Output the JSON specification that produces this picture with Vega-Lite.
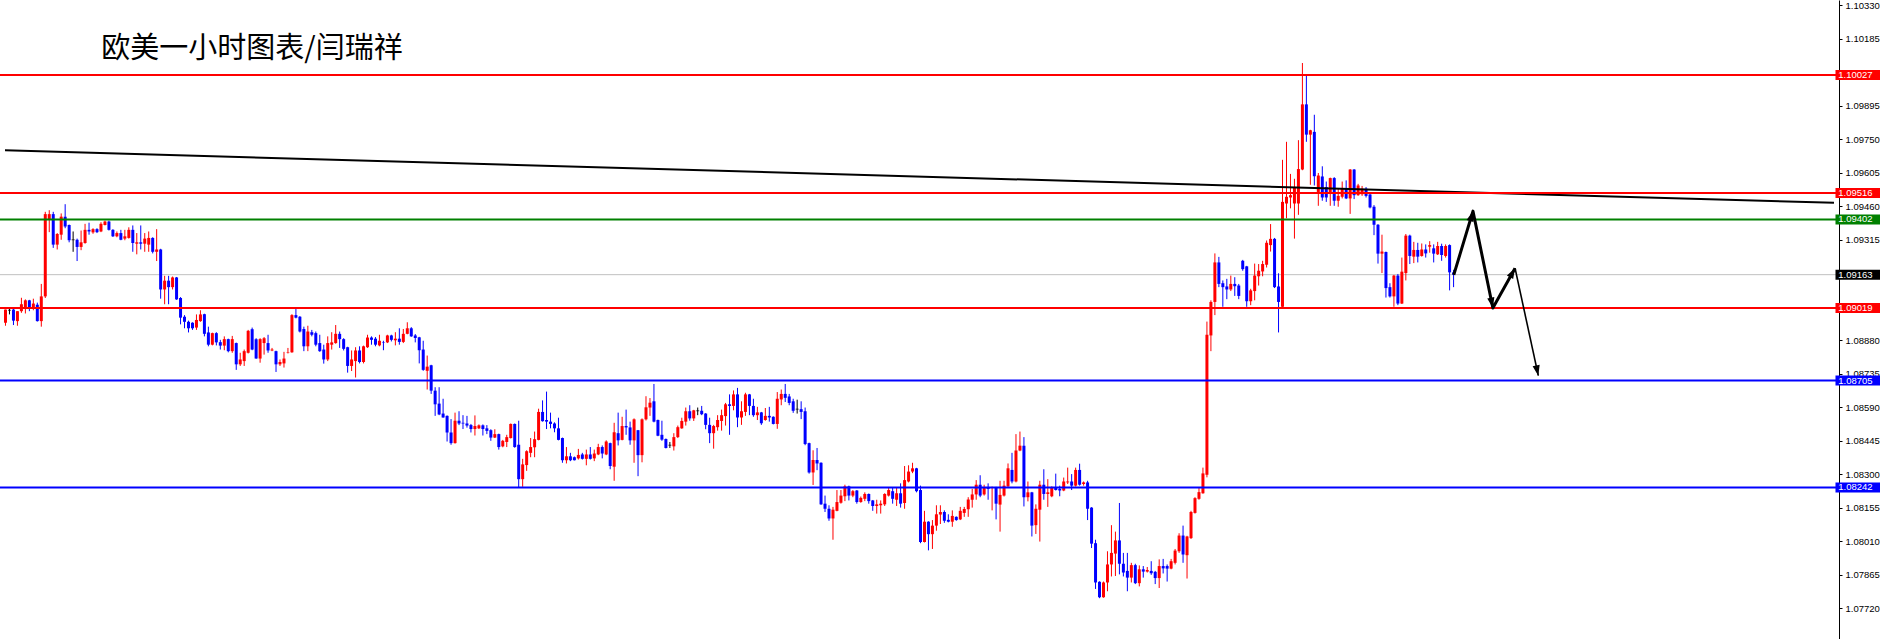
{
"$schema":"https://vega.github.io/schema/vega-lite/v6.json",
"width":1839,"height":639,
"autosize":{"type":"none"},
"padding":{"left":0,"top":0,"right":41,"bottom":0},
"background":"white",
"config":{"view":{"stroke":null},"font":"Liberation Sans"},
"resolve":{"axis":{"y":"independent"}},
"datasets":{
"candles":[
{"i":0,"o":1.08955,"h":1.09012,"l":1.08942,"c":1.09012},
{"i":1,"o":1.09009,"h":1.09016,"l":1.08991,"c":1.09009},
{"i":2,"o":1.09012,"h":1.09015,"l":1.08945,"c":1.08964},
{"i":3,"o":1.08962,"h":1.09005,"l":1.08942,"c":1.09005},
{"i":4,"o":1.09005,"h":1.09063,"l":1.08998,"c":1.09035},
{"i":5,"o":1.09023,"h":1.09056,"l":1.08995,"c":1.09052},
{"i":6,"o":1.09052,"h":1.09054,"l":1.09005,"c":1.09023},
{"i":7,"o":1.09019,"h":1.09059,"l":1.09009,"c":1.09038},
{"i":8,"o":1.09033,"h":1.09042,"l":1.0896,"c":1.08962},
{"i":9,"o":1.08962,"h":1.09123,"l":1.08938,"c":1.09069},
{"i":10,"o":1.09069,"h":1.09435,"l":1.09062,"c":1.09425},
{"i":11,"o":1.09404,"h":1.09442,"l":1.09347,"c":1.09425},
{"i":12,"o":1.09425,"h":1.09435,"l":1.09279,"c":1.09293},
{"i":13,"o":1.09293,"h":1.09343,"l":1.09272,"c":1.09339},
{"i":14,"o":1.09336,"h":1.09428,"l":1.09314,"c":1.09414},
{"i":15,"o":1.09414,"h":1.09468,"l":1.09364,"c":1.09371},
{"i":16,"o":1.09378,"h":1.0938,"l":1.09303,"c":1.09312},
{"i":17,"o":1.09314,"h":1.0935,"l":1.09262,"c":1.09314},
{"i":18,"o":1.09314,"h":1.09319,"l":1.09222,"c":1.09283},
{"i":19,"o":1.09283,"h":1.09354,"l":1.09269,"c":1.09303},
{"i":20,"o":1.093,"h":1.09383,"l":1.09297,"c":1.09357},
{"i":21,"o":1.09357,"h":1.09388,"l":1.09336,"c":1.0935},
{"i":22,"o":1.09346,"h":1.09364,"l":1.0934,"c":1.0936},
{"i":23,"o":1.0936,"h":1.09364,"l":1.09343,"c":1.09347},
{"i":24,"o":1.0935,"h":1.0939,"l":1.09347,"c":1.09383},
{"i":25,"o":1.09378,"h":1.09397,"l":1.09376,"c":1.09393},
{"i":26,"o":1.09393,"h":1.09397,"l":1.09354,"c":1.09357},
{"i":27,"o":1.09357,"h":1.0936,"l":1.09326,"c":1.09329},
{"i":28,"o":1.09329,"h":1.0935,"l":1.09325,"c":1.09343},
{"i":29,"o":1.09343,"h":1.09357,"l":1.09312,"c":1.09314},
{"i":30,"o":1.09319,"h":1.09357,"l":1.09312,"c":1.09329},
{"i":31,"o":1.09322,"h":1.09368,"l":1.09319,"c":1.09357},
{"i":32,"o":1.09357,"h":1.09376,"l":1.09262,"c":1.093},
{"i":33,"o":1.09297,"h":1.09343,"l":1.09251,"c":1.09303},
{"i":34,"o":1.09303,"h":1.09376,"l":1.09272,"c":1.09297},
{"i":35,"o":1.09297,"h":1.09343,"l":1.09262,"c":1.09319},
{"i":36,"o":1.09293,"h":1.0935,"l":1.09262,"c":1.09322},
{"i":37,"o":1.09322,"h":1.09325,"l":1.09255,"c":1.09262},
{"i":38,"o":1.09262,"h":1.0936,"l":1.09222,"c":1.09272},
{"i":39,"o":1.09272,"h":1.09275,"l":1.09059,"c":1.09099},
{"i":40,"o":1.09099,"h":1.09158,"l":1.09035,"c":1.09137},
{"i":41,"o":1.09137,"h":1.09158,"l":1.09035,"c":1.09109},
{"i":42,"o":1.09109,"h":1.09155,"l":1.09099,"c":1.09151},
{"i":43,"o":1.09151,"h":1.09153,"l":1.09054,"c":1.09056},
{"i":44,"o":1.09062,"h":1.09066,"l":1.08948,"c":1.08977},
{"i":45,"o":1.08981,"h":1.08988,"l":1.08931,"c":1.08959},
{"i":46,"o":1.08959,"h":1.08964,"l":1.08913,"c":1.08931},
{"i":47,"o":1.08955,"h":1.08957,"l":1.08924,"c":1.08931},
{"i":48,"o":1.08934,"h":1.08991,"l":1.08924,"c":1.08967},
{"i":49,"o":1.08962,"h":1.09009,"l":1.08959,"c":1.08991},
{"i":50,"o":1.08992,"h":1.08994,"l":1.08896,"c":1.08907},
{"i":51,"o":1.08913,"h":1.08938,"l":1.08853,"c":1.0886},
{"i":52,"o":1.0886,"h":1.08912,"l":1.08857,"c":1.0891},
{"i":53,"o":1.0891,"h":1.08914,"l":1.08857,"c":1.0887},
{"i":54,"o":1.08871,"h":1.08881,"l":1.08839,"c":1.08856},
{"i":55,"o":1.08856,"h":1.08896,"l":1.08836,"c":1.08884},
{"i":56,"o":1.08884,"h":1.08886,"l":1.08827,"c":1.08832},
{"i":57,"o":1.08832,"h":1.08898,"l":1.08825,"c":1.08884},
{"i":58,"o":1.08867,"h":1.08869,"l":1.08751,"c":1.08775},
{"i":59,"o":1.08775,"h":1.08825,"l":1.08768,"c":1.08796},
{"i":60,"o":1.08789,"h":1.08839,"l":1.08768,"c":1.08832},
{"i":61,"o":1.08825,"h":1.08924,"l":1.08822,"c":1.0892},
{"i":62,"o":1.08927,"h":1.08934,"l":1.08836,"c":1.08839},
{"i":63,"o":1.08884,"h":1.08888,"l":1.08799,"c":1.088},
{"i":64,"o":1.088,"h":1.08888,"l":1.08782,"c":1.08884},
{"i":65,"o":1.08867,"h":1.08893,"l":1.08817,"c":1.08888},
{"i":66,"o":1.08867,"h":1.08903,"l":1.08825,"c":1.08835},
{"i":67,"o":1.08835,"h":1.08846,"l":1.08832,"c":1.08839},
{"i":68,"o":1.08832,"h":1.08834,"l":1.08742,"c":1.08775},
{"i":69,"o":1.08775,"h":1.08796,"l":1.08768,"c":1.08785},
{"i":70,"o":1.08779,"h":1.08829,"l":1.08761,"c":1.088},
{"i":71,"o":1.08825,"h":1.08846,"l":1.08822,"c":1.08827},
{"i":72,"o":1.08827,"h":1.08992,"l":1.08825,"c":1.08988},
{"i":73,"o":1.08988,"h":1.09016,"l":1.08974,"c":1.08977},
{"i":74,"o":1.08981,"h":1.08984,"l":1.08913,"c":1.08917},
{"i":75,"o":1.08928,"h":1.08938,"l":1.08832,"c":1.08853},
{"i":76,"o":1.08853,"h":1.08942,"l":1.08832,"c":1.08917},
{"i":77,"o":1.08914,"h":1.08924,"l":1.08896,"c":1.08903},
{"i":78,"o":1.0891,"h":1.08917,"l":1.08853,"c":1.0886},
{"i":79,"o":1.08867,"h":1.08903,"l":1.08829,"c":1.08832},
{"i":80,"o":1.08839,"h":1.0886,"l":1.08778,"c":1.08796},
{"i":81,"o":1.08796,"h":1.08896,"l":1.08789,"c":1.08867},
{"i":82,"o":1.0886,"h":1.08914,"l":1.08839,"c":1.0887},
{"i":83,"o":1.08867,"h":1.08945,"l":1.08864,"c":1.08907},
{"i":84,"o":1.08907,"h":1.08917,"l":1.08846,"c":1.08884},
{"i":85,"o":1.08884,"h":1.08888,"l":1.08835,"c":1.08842},
{"i":86,"o":1.08849,"h":1.08851,"l":1.08739,"c":1.08768},
{"i":87,"o":1.08768,"h":1.08835,"l":1.08746,"c":1.08796},
{"i":88,"o":1.08789,"h":1.08849,"l":1.08718,"c":1.08835},
{"i":89,"o":1.08835,"h":1.08853,"l":1.08779,"c":1.08785},
{"i":90,"o":1.08785,"h":1.08856,"l":1.08779,"c":1.08853},
{"i":91,"o":1.08849,"h":1.08903,"l":1.08846,"c":1.08891},
{"i":92,"o":1.08891,"h":1.08896,"l":1.0886,"c":1.08881},
{"i":93,"o":1.08886,"h":1.08893,"l":1.08853,"c":1.0886},
{"i":94,"o":1.08857,"h":1.08903,"l":1.08853,"c":1.08877},
{"i":95,"o":1.08871,"h":1.08877,"l":1.08836,"c":1.08869},
{"i":96,"o":1.0887,"h":1.08903,"l":1.08867,"c":1.089},
{"i":97,"o":1.089,"h":1.08903,"l":1.08874,"c":1.08881},
{"i":98,"o":1.08879,"h":1.08914,"l":1.08857,"c":1.08886},
{"i":99,"o":1.08886,"h":1.08931,"l":1.0886,"c":1.08872},
{"i":100,"o":1.08872,"h":1.08928,"l":1.08867,"c":1.08907},
{"i":101,"o":1.08907,"h":1.08957,"l":1.08905,"c":1.08931},
{"i":102,"o":1.08931,"h":1.08936,"l":1.08894,"c":1.08896},
{"i":103,"o":1.089,"h":1.08906,"l":1.0887,"c":1.08889},
{"i":104,"o":1.08892,"h":1.08894,"l":1.08779,"c":1.08836},
{"i":105,"o":1.08839,"h":1.08877,"l":1.08747,"c":1.08751},
{"i":106,"o":1.08747,"h":1.08813,"l":1.08666,"c":1.08765},
{"i":107,"o":1.08771,"h":1.08773,"l":1.08647,"c":1.08661},
{"i":108,"o":1.08661,"h":1.08676,"l":1.08552,"c":1.08602},
{"i":109,"o":1.08605,"h":1.08676,"l":1.08555,"c":1.08558},
{"i":110,"o":1.08562,"h":1.08626,"l":1.08544,"c":1.08545},
{"i":111,"o":1.08552,"h":1.08554,"l":1.08441,"c":1.0848},
{"i":112,"o":1.0848,"h":1.08538,"l":1.08427,"c":1.08434},
{"i":113,"o":1.08434,"h":1.08566,"l":1.08432,"c":1.08531},
{"i":114,"o":1.08531,"h":1.08572,"l":1.08512,"c":1.08519},
{"i":115,"o":1.08522,"h":1.08555,"l":1.08495,"c":1.08519},
{"i":116,"o":1.08519,"h":1.08552,"l":1.08501,"c":1.0851},
{"i":117,"o":1.08512,"h":1.08517,"l":1.0848,"c":1.08495},
{"i":118,"o":1.08495,"h":1.08554,"l":1.08467,"c":1.08508},
{"i":119,"o":1.08498,"h":1.08515,"l":1.08495,"c":1.08511},
{"i":120,"o":1.08511,"h":1.08515,"l":1.08467,"c":1.08495},
{"i":121,"o":1.08498,"h":1.08512,"l":1.08473,"c":1.08487},
{"i":122,"o":1.0849,"h":1.08494,"l":1.08444,"c":1.08458},
{"i":123,"o":1.08458,"h":1.08494,"l":1.08456,"c":1.08473},
{"i":124,"o":1.08473,"h":1.08475,"l":1.08406,"c":1.08417},
{"i":125,"o":1.0842,"h":1.08448,"l":1.08416,"c":1.08444},
{"i":126,"o":1.08439,"h":1.0847,"l":1.08417,"c":1.0846},
{"i":127,"o":1.08456,"h":1.08519,"l":1.08454,"c":1.08517},
{"i":128,"o":1.08517,"h":1.08519,"l":1.08414,"c":1.08417},
{"i":129,"o":1.08427,"h":1.08531,"l":1.08243,"c":1.08278},
{"i":130,"o":1.08278,"h":1.08366,"l":1.08245,"c":1.08342},
{"i":131,"o":1.08339,"h":1.08403,"l":1.08314,"c":1.08399},
{"i":132,"o":1.08392,"h":1.08456,"l":1.08373,"c":1.08417},
{"i":133,"o":1.08416,"h":1.08484,"l":1.08373,"c":1.08451},
{"i":134,"o":1.08448,"h":1.08583,"l":1.08446,"c":1.08569},
{"i":135,"o":1.08569,"h":1.08619,"l":1.08527,"c":1.08529},
{"i":136,"o":1.08534,"h":1.08657,"l":1.08495,"c":1.08527},
{"i":137,"o":1.08527,"h":1.08566,"l":1.08498,"c":1.08517},
{"i":138,"o":1.08519,"h":1.08524,"l":1.08481,"c":1.08498},
{"i":139,"o":1.08498,"h":1.08544,"l":1.08446,"c":1.08448},
{"i":140,"o":1.08456,"h":1.08458,"l":1.08349,"c":1.0836},
{"i":141,"o":1.0836,"h":1.08417,"l":1.08346,"c":1.08377},
{"i":142,"o":1.08377,"h":1.08392,"l":1.08356,"c":1.0836},
{"i":143,"o":1.08373,"h":1.08376,"l":1.08359,"c":1.0836},
{"i":144,"o":1.08368,"h":1.08409,"l":1.08363,"c":1.08383},
{"i":145,"o":1.08385,"h":1.08392,"l":1.08363,"c":1.08366},
{"i":146,"o":1.08366,"h":1.08406,"l":1.08338,"c":1.08385},
{"i":147,"o":1.08385,"h":1.08417,"l":1.08363,"c":1.08366},
{"i":148,"o":1.08368,"h":1.08406,"l":1.08356,"c":1.08389},
{"i":149,"o":1.08385,"h":1.08431,"l":1.08382,"c":1.08417},
{"i":150,"o":1.08417,"h":1.08424,"l":1.08368,"c":1.08389},
{"i":151,"o":1.08385,"h":1.08446,"l":1.08382,"c":1.08441},
{"i":152,"o":1.08434,"h":1.08436,"l":1.08321,"c":1.08335},
{"i":153,"o":1.08332,"h":1.08522,"l":1.08271,"c":1.08481},
{"i":154,"o":1.08477,"h":1.08566,"l":1.08424,"c":1.08446},
{"i":155,"o":1.08448,"h":1.08548,"l":1.08446,"c":1.08508},
{"i":156,"o":1.08508,"h":1.08579,"l":1.0847,"c":1.08502},
{"i":157,"o":1.08502,"h":1.08527,"l":1.08427,"c":1.08446},
{"i":158,"o":1.08446,"h":1.08541,"l":1.08349,"c":1.08537},
{"i":159,"o":1.0849,"h":1.08491,"l":1.08291,"c":1.08382},
{"i":160,"o":1.08382,"h":1.08541,"l":1.08351,"c":1.08537},
{"i":161,"o":1.08537,"h":1.08637,"l":1.08532,"c":1.08589},
{"i":162,"o":1.08588,"h":1.08629,"l":1.08552,"c":1.08609},
{"i":163,"o":1.08615,"h":1.0869,"l":1.08524,"c":1.08527},
{"i":164,"o":1.08534,"h":1.08536,"l":1.08464,"c":1.08466},
{"i":165,"o":1.0847,"h":1.08531,"l":1.08444,"c":1.08449},
{"i":166,"o":1.08452,"h":1.08454,"l":1.08411,"c":1.08413},
{"i":167,"o":1.08425,"h":1.08439,"l":1.08413,"c":1.08425},
{"i":168,"o":1.0842,"h":1.08477,"l":1.08402,"c":1.0846},
{"i":169,"o":1.0846,"h":1.0851,"l":1.08456,"c":1.08503},
{"i":170,"o":1.08498,"h":1.08544,"l":1.08496,"c":1.0853},
{"i":171,"o":1.08527,"h":1.08588,"l":1.0851,"c":1.08572},
{"i":172,"o":1.08572,"h":1.08598,"l":1.08531,"c":1.08541},
{"i":173,"o":1.08541,"h":1.08578,"l":1.0853,"c":1.08576},
{"i":174,"o":1.08574,"h":1.08588,"l":1.08555,"c":1.08574},
{"i":175,"o":1.08574,"h":1.08595,"l":1.08555,"c":1.08559},
{"i":176,"o":1.08562,"h":1.08564,"l":1.08494,"c":1.08513},
{"i":177,"o":1.08513,"h":1.08544,"l":1.08434,"c":1.08477},
{"i":178,"o":1.08477,"h":1.08513,"l":1.0841,"c":1.08508},
{"i":179,"o":1.08503,"h":1.08555,"l":1.08488,"c":1.08534},
{"i":180,"o":1.0853,"h":1.08579,"l":1.08488,"c":1.08555},
{"i":181,"o":1.08551,"h":1.08608,"l":1.0851,"c":1.08602},
{"i":182,"o":1.08602,"h":1.08645,"l":1.0847,"c":1.08595},
{"i":183,"o":1.08595,"h":1.08662,"l":1.08576,"c":1.08645},
{"i":184,"o":1.08645,"h":1.08673,"l":1.08503,"c":1.08545},
{"i":185,"o":1.08545,"h":1.08615,"l":1.08513,"c":1.08572},
{"i":186,"o":1.08569,"h":1.08652,"l":1.08552,"c":1.08645},
{"i":187,"o":1.08645,"h":1.08647,"l":1.08555,"c":1.08595},
{"i":188,"o":1.08595,"h":1.08626,"l":1.08548,"c":1.08555},
{"i":189,"o":1.08555,"h":1.08591,"l":1.08534,"c":1.08567},
{"i":190,"o":1.08567,"h":1.08569,"l":1.08513,"c":1.0852},
{"i":191,"o":1.08534,"h":1.08586,"l":1.08531,"c":1.08552},
{"i":192,"o":1.08552,"h":1.08591,"l":1.08527,"c":1.08545},
{"i":193,"o":1.08548,"h":1.0855,"l":1.08515,"c":1.08517},
{"i":194,"o":1.08517,"h":1.08655,"l":1.08496,"c":1.08626},
{"i":195,"o":1.08623,"h":1.08666,"l":1.08598,"c":1.08647},
{"i":196,"o":1.08647,"h":1.0869,"l":1.08612,"c":1.0863},
{"i":197,"o":1.08636,"h":1.08647,"l":1.08598,"c":1.08608},
{"i":198,"o":1.08615,"h":1.08626,"l":1.08565,"c":1.08574},
{"i":199,"o":1.08581,"h":1.08622,"l":1.08562,"c":1.08581},
{"i":200,"o":1.08581,"h":1.08615,"l":1.08538,"c":1.08569},
{"i":201,"o":1.08572,"h":1.08588,"l":1.08425,"c":1.0843},
{"i":202,"o":1.08434,"h":1.08436,"l":1.08302,"c":1.08307},
{"i":203,"o":1.08307,"h":1.08403,"l":1.08253,"c":1.08361},
{"i":204,"o":1.08361,"h":1.08413,"l":1.08317,"c":1.08346},
{"i":205,"o":1.08349,"h":1.08351,"l":1.08167,"c":1.08169},
{"i":206,"o":1.08172,"h":1.08207,"l":1.08136,"c":1.0815},
{"i":207,"o":1.0815,"h":1.08165,"l":1.08098,"c":1.08108},
{"i":208,"o":1.08108,"h":1.08158,"l":1.08016,"c":1.08146},
{"i":209,"o":1.08141,"h":1.08231,"l":1.08139,"c":1.08179},
{"i":210,"o":1.08176,"h":1.08231,"l":1.08172,"c":1.08207},
{"i":211,"o":1.08204,"h":1.08254,"l":1.08183,"c":1.08247},
{"i":212,"o":1.08247,"h":1.0825,"l":1.08186,"c":1.08207},
{"i":213,"o":1.08207,"h":1.08231,"l":1.082,"c":1.08226},
{"i":214,"o":1.08229,"h":1.08231,"l":1.08172,"c":1.08179},
{"i":215,"o":1.08179,"h":1.08203,"l":1.08176,"c":1.08197},
{"i":216,"o":1.08193,"h":1.08221,"l":1.08183,"c":1.08214},
{"i":217,"o":1.08214,"h":1.08216,"l":1.08172,"c":1.08183},
{"i":218,"o":1.08186,"h":1.08188,"l":1.08141,"c":1.08162},
{"i":219,"o":1.08162,"h":1.08189,"l":1.08129,"c":1.08169},
{"i":220,"o":1.08165,"h":1.08186,"l":1.08129,"c":1.08172},
{"i":221,"o":1.08169,"h":1.08217,"l":1.08162,"c":1.08214},
{"i":222,"o":1.08207,"h":1.0824,"l":1.08203,"c":1.08231},
{"i":223,"o":1.08226,"h":1.08243,"l":1.08172,"c":1.08193},
{"i":224,"o":1.08189,"h":1.0824,"l":1.08162,"c":1.08217},
{"i":225,"o":1.08217,"h":1.0826,"l":1.08155,"c":1.08172},
{"i":226,"o":1.08175,"h":1.08335,"l":1.0815,"c":1.08274},
{"i":227,"o":1.08268,"h":1.08338,"l":1.08264,"c":1.08311},
{"i":228,"o":1.08311,"h":1.08349,"l":1.08304,"c":1.08325},
{"i":229,"o":1.08325,"h":1.08327,"l":1.08221,"c":1.08226},
{"i":230,"o":1.08231,"h":1.0825,"l":1.08001,"c":1.08006},
{"i":231,"o":1.08006,"h":1.08141,"l":1.08004,"c":1.08094},
{"i":232,"o":1.08094,"h":1.08096,"l":1.0797,"c":1.0804},
{"i":233,"o":1.0804,"h":1.08101,"l":1.07976,"c":1.08077},
{"i":234,"o":1.08077,"h":1.08165,"l":1.08055,"c":1.08126},
{"i":235,"o":1.08125,"h":1.08165,"l":1.08084,"c":1.08136},
{"i":236,"o":1.08136,"h":1.08143,"l":1.08089,"c":1.08098},
{"i":237,"o":1.08102,"h":1.08126,"l":1.08091,"c":1.08094},
{"i":238,"o":1.08094,"h":1.08143,"l":1.08072,"c":1.08119},
{"i":239,"o":1.08115,"h":1.08117,"l":1.08098,"c":1.08101},
{"i":240,"o":1.08104,"h":1.08158,"l":1.08101,"c":1.08141},
{"i":241,"o":1.08132,"h":1.08158,"l":1.08115,"c":1.08149},
{"i":242,"o":1.08148,"h":1.082,"l":1.08115,"c":1.0819},
{"i":243,"o":1.08189,"h":1.08236,"l":1.08155,"c":1.08212},
{"i":244,"o":1.08212,"h":1.08274,"l":1.08189,"c":1.08254},
{"i":245,"o":1.08254,"h":1.08295,"l":1.082,"c":1.08207},
{"i":246,"o":1.08212,"h":1.08254,"l":1.08207,"c":1.0824},
{"i":247,"o":1.08243,"h":1.0826,"l":1.08189,"c":1.08236},
{"i":248,"o":1.0824,"h":1.08246,"l":1.08143,"c":1.08243},
{"i":249,"o":1.08243,"h":1.08245,"l":1.08104,"c":1.08172},
{"i":250,"o":1.08168,"h":1.08271,"l":1.08051,"c":1.0821},
{"i":251,"o":1.08207,"h":1.08271,"l":1.08203,"c":1.0825},
{"i":252,"o":1.08247,"h":1.08346,"l":1.08243,"c":1.08325},
{"i":253,"o":1.08318,"h":1.08392,"l":1.0826,"c":1.08268},
{"i":254,"o":1.08268,"h":1.08473,"l":1.08264,"c":1.08402},
{"i":255,"o":1.08402,"h":1.08484,"l":1.08399,"c":1.08423},
{"i":256,"o":1.08423,"h":1.0846,"l":1.0816,"c":1.082},
{"i":257,"o":1.082,"h":1.08268,"l":1.08182,"c":1.08221},
{"i":258,"o":1.08221,"h":1.08223,"l":1.0803,"c":1.08077},
{"i":259,"o":1.08079,"h":1.08169,"l":1.08041,"c":1.0815},
{"i":260,"o":1.08146,"h":1.08271,"l":1.08008,"c":1.08254},
{"i":261,"o":1.08254,"h":1.08321,"l":1.08189,"c":1.08214},
{"i":262,"o":1.08214,"h":1.08278,"l":1.08158,"c":1.08221},
{"i":263,"o":1.08204,"h":1.08247,"l":1.082,"c":1.08243},
{"i":264,"o":1.08243,"h":1.08302,"l":1.08229,"c":1.08231},
{"i":265,"o":1.08236,"h":1.0825,"l":1.08204,"c":1.08229},
{"i":266,"o":1.08229,"h":1.08285,"l":1.08226,"c":1.08268},
{"i":267,"o":1.08264,"h":1.08328,"l":1.08257,"c":1.08268},
{"i":268,"o":1.08268,"h":1.083,"l":1.08231,"c":1.0825},
{"i":269,"o":1.0825,"h":1.08328,"l":1.08246,"c":1.08318},
{"i":270,"o":1.08318,"h":1.08345,"l":1.0825,"c":1.08254},
{"i":271,"o":1.08257,"h":1.08268,"l":1.0825,"c":1.08264},
{"i":272,"o":1.08264,"h":1.08271,"l":1.08101,"c":1.0815},
{"i":273,"o":1.08155,"h":1.08157,"l":1.0798,"c":1.07999},
{"i":274,"o":1.08001,"h":1.08016,"l":1.07803,"c":1.07831},
{"i":275,"o":1.07834,"h":1.07836,"l":1.07763,"c":1.07767},
{"i":276,"o":1.07767,"h":1.07835,"l":1.07765,"c":1.07831},
{"i":277,"o":1.07831,"h":1.07966,"l":1.07793,"c":1.07909},
{"i":278,"o":1.07909,"h":1.08079,"l":1.07857,"c":1.07959},
{"i":279,"o":1.07956,"h":1.08051,"l":1.07859,"c":1.08013},
{"i":280,"o":1.08013,"h":1.08175,"l":1.07866,"c":1.07912},
{"i":281,"o":1.07912,"h":1.07959,"l":1.07857,"c":1.07874},
{"i":282,"o":1.07881,"h":1.07959,"l":1.07793,"c":1.07852},
{"i":283,"o":1.07852,"h":1.07916,"l":1.07831,"c":1.07906},
{"i":284,"o":1.07906,"h":1.07912,"l":1.07824,"c":1.07828},
{"i":285,"o":1.07828,"h":1.07905,"l":1.07814,"c":1.07888},
{"i":286,"o":1.07888,"h":1.07902,"l":1.07852,"c":1.07878},
{"i":287,"o":1.07878,"h":1.07898,"l":1.07874,"c":1.07885},
{"i":288,"o":1.07881,"h":1.07923,"l":1.07864,"c":1.07871},
{"i":289,"o":1.07877,"h":1.07881,"l":1.07824,"c":1.0785},
{"i":290,"o":1.0785,"h":1.07931,"l":1.07807,"c":1.07902},
{"i":291,"o":1.07902,"h":1.07933,"l":1.0787,"c":1.07892},
{"i":292,"o":1.07902,"h":1.07909,"l":1.07835,"c":1.07891},
{"i":293,"o":1.07891,"h":1.07933,"l":1.07888,"c":1.07923},
{"i":294,"o":1.07916,"h":1.07976,"l":1.07909,"c":1.07969},
{"i":295,"o":1.07966,"h":1.08044,"l":1.07959,"c":1.08034},
{"i":296,"o":1.08034,"h":1.08077,"l":1.07916,"c":1.07952},
{"i":297,"o":1.07949,"h":1.08033,"l":1.07848,"c":1.0803},
{"i":298,"o":1.08023,"h":1.08141,"l":1.08019,"c":1.08136},
{"i":299,"o":1.08132,"h":1.082,"l":1.08129,"c":1.08196},
{"i":300,"o":1.08193,"h":1.0824,"l":1.08189,"c":1.08222},
{"i":301,"o":1.08217,"h":1.08328,"l":1.08215,"c":1.08303},
{"i":302,"o":1.08297,"h":1.0896,"l":1.08286,"c":1.08903},
{"i":303,"o":1.089,"h":1.09052,"l":1.08832,"c":1.09045},
{"i":304,"o":1.09045,"h":1.09255,"l":1.08988,"c":1.09216},
{"i":305,"o":1.09216,"h":1.0924,"l":1.09109,"c":1.09123},
{"i":306,"o":1.09126,"h":1.09138,"l":1.09024,"c":1.09109},
{"i":307,"o":1.09112,"h":1.09145,"l":1.09057,"c":1.09099},
{"i":308,"o":1.09099,"h":1.09159,"l":1.09092,"c":1.09123},
{"i":309,"o":1.09123,"h":1.09152,"l":1.09071,"c":1.09113},
{"i":310,"o":1.09116,"h":1.09123,"l":1.09057,"c":1.09071},
{"i":311,"o":1.09223,"h":1.09227,"l":1.0918,"c":1.09187},
{"i":312,"o":1.09199,"h":1.09201,"l":1.09024,"c":1.09048},
{"i":313,"o":1.09048,"h":1.09102,"l":1.09031,"c":1.09095},
{"i":314,"o":1.09092,"h":1.09211,"l":1.09052,"c":1.09159},
{"i":315,"o":1.09156,"h":1.09209,"l":1.09116,"c":1.0918},
{"i":316,"o":1.09177,"h":1.09223,"l":1.09156,"c":1.09209},
{"i":317,"o":1.09206,"h":1.09311,"l":1.09194,"c":1.09301},
{"i":318,"o":1.09291,"h":1.09382,"l":1.09263,"c":1.09318},
{"i":319,"o":1.09318,"h":1.09322,"l":1.09105,"c":1.09109},
{"i":320,"o":1.09112,"h":1.09169,"l":1.08913,"c":1.09045},
{"i":321,"o":1.09024,"h":1.0966,"l":1.0902,"c":1.09478},
{"i":322,"o":1.09471,"h":1.09738,"l":1.09407,"c":1.095},
{"i":323,"o":1.09497,"h":1.09599,"l":1.0945,"c":1.09507},
{"i":324,"o":1.09471,"h":1.09578,"l":1.09319,"c":1.09538},
{"i":325,"o":1.09471,"h":1.09745,"l":1.09422,"c":1.0962},
{"i":326,"o":1.09618,"h":1.10079,"l":1.09615,"c":1.099},
{"i":327,"o":1.099,"h":1.10025,"l":1.09738,"c":1.09769},
{"i":328,"o":1.09769,"h":1.0979,"l":1.09552,"c":1.09788},
{"i":329,"o":1.09781,"h":1.09855,"l":1.09549,"c":1.09589},
{"i":330,"o":1.09521,"h":1.09603,"l":1.09461,"c":1.09592},
{"i":331,"o":1.09588,"h":1.09632,"l":1.09483,"c":1.09497},
{"i":332,"o":1.09542,"h":1.09566,"l":1.09478,"c":1.09497},
{"i":333,"o":1.09514,"h":1.09583,"l":1.09461,"c":1.09581},
{"i":334,"o":1.09581,"h":1.09585,"l":1.09461,"c":1.09483},
{"i":335,"o":1.09483,"h":1.09535,"l":1.09457,"c":1.09504},
{"i":336,"o":1.095,"h":1.09566,"l":1.09493,"c":1.09535},
{"i":337,"o":1.09535,"h":1.09571,"l":1.0949,"c":1.09493},
{"i":338,"o":1.09493,"h":1.0962,"l":1.09426,"c":1.09618},
{"i":339,"o":1.09618,"h":1.0962,"l":1.0949,"c":1.09507},
{"i":340,"o":1.09507,"h":1.09556,"l":1.09504,"c":1.09549},
{"i":341,"o":1.09511,"h":1.09547,"l":1.09504,"c":1.09535},
{"i":342,"o":1.09535,"h":1.09542,"l":1.09497,"c":1.09504},
{"i":343,"o":1.0951,"h":1.09512,"l":1.0945,"c":1.09454},
{"i":344,"o":1.09457,"h":1.09464,"l":1.09334,"c":1.09379},
{"i":345,"o":1.09379,"h":1.09382,"l":1.09211,"c":1.09254},
{"i":346,"o":1.09254,"h":1.09336,"l":1.0917,"c":1.09263},
{"i":347,"o":1.09261,"h":1.09263,"l":1.09064,"c":1.09105},
{"i":348,"o":1.09109,"h":1.09126,"l":1.09064,"c":1.09069},
{"i":349,"o":1.09069,"h":1.09162,"l":1.09024,"c":1.09159},
{"i":350,"o":1.09159,"h":1.09166,"l":1.09031,"c":1.09038},
{"i":351,"o":1.09038,"h":1.09237,"l":1.09036,"c":1.09176},
{"i":352,"o":1.0917,"h":1.09339,"l":1.09138,"c":1.09332},
{"i":353,"o":1.09332,"h":1.09336,"l":1.09209,"c":1.09244},
{"i":354,"o":1.09241,"h":1.09305,"l":1.09213,"c":1.0927},
{"i":355,"o":1.0927,"h":1.09301,"l":1.09216,"c":1.09241},
{"i":356,"o":1.09244,"h":1.09298,"l":1.09241,"c":1.09272},
{"i":357,"o":1.09272,"h":1.09294,"l":1.09237,"c":1.09255},
{"i":358,"o":1.09284,"h":1.09308,"l":1.09258,"c":1.09291},
{"i":359,"o":1.09277,"h":1.09294,"l":1.09216,"c":1.09254},
{"i":360,"o":1.09251,"h":1.09305,"l":1.09248,"c":1.09287},
{"i":361,"o":1.09287,"h":1.09297,"l":1.09223,"c":1.09248},
{"i":362,"o":1.09244,"h":1.09294,"l":1.09237,"c":1.09287},
{"i":363,"o":1.09291,"h":1.09294,"l":1.09095,"c":1.09173},
{"i":364,"o":1.09173,"h":1.09184,"l":1.09109,"c":1.09163}
],
"levels":[
{"level":1.10027,"kind":"resistance"},
{"level":1.09516,"kind":"resistance"},
{"level":1.09402,"kind":"pivot"},
{"level":1.09163,"kind":"bid"},
{"level":1.09019,"kind":"resistance"},
{"level":1.08705,"kind":"support"},
{"level":1.08242,"kind":"support"}
],
"trend":[{"i":-0.125,"p":1.09701},{"i":459.625,"p":1.09474}],
"path":[
{"n":1,"i":364.05,"p":1.09162},
{"n":2,"i":368.875,"p":1.09438},
{"n":3,"i":373.875,"p":1.09019},
{"n":4,"i":379.45,"p":1.09191}
],
"pathEnd":[{"n":1,"i":379.45,"p":1.09191},{"n":2,"i":385.3,"p":1.08726}],
"heads":[
{"head":"A","i":368.875,"p":1.09438},
{"head":"B","i":373.875,"p":1.09019},
{"head":"C","i":379.45,"p":1.09191},
{"head":"D","i":385.3,"p":1.08726}
],
"title":[{"t":"欧美一小时图表/闫瑞祥"}]
},
"layer":[
{"data":{"name":"levels"},"transform":[{"filter":"datum.kind == 'bid'"}],
 "mark":{"type":"rule","color":"#c0c0c0","strokeWidth":1},
 "encoding":{"y":{"field":"level","type":"quantitative","scale":{"domain":[1.07608,1.1033],"nice":false,"zero":false},
  "axis":{"orient":"right","values":[1.0772,1.07865,1.0801,1.08155,1.083,1.08445,1.0859,1.08735,1.0888,1.09315,1.0946,1.09605,1.0975,1.09895,1.10185,1.1033],
  "format":".5f","title":null,"grid":false,"labelFont":"Liberation Sans","labelFontSize":9.5,"labelColor":"#000000","tickColor":"#000000","domainColor":"#000000","tickSize":3,"labelPadding":3,"labelOverlap":false,"labelBound":false}}}},
{"data":{"name":"candles"},"mark":{"type":"rule","strokeWidth":1},
 "encoding":{"x":{"field":"i","type":"quantitative","scale":{"domain":[-0.125,459.625],"nice":false,"zero":false},"axis":null},
  "y":{"field":"l","type":"quantitative","scale":{"domain":[1.07608,1.1033],"nice":false,"zero":false},"axis":null},
  "y2":{"field":"h"},
  "color":{"condition":[{"test":"datum.c > datum.o","value":"#ff0000"},{"test":"datum.c < datum.o","value":"#0000ff"}],"value":"#000000"}}},
{"data":{"name":"candles"},"mark":{"type":"bar","size":3},
 "encoding":{"x":{"field":"i","type":"quantitative","scale":{"domain":[-0.125,459.625],"nice":false,"zero":false},"axis":null},
  "y":{"field":"o","type":"quantitative","scale":{"domain":[1.07608,1.1033],"nice":false,"zero":false},"axis":null},
  "y2":{"field":"c"},
  "color":{"condition":[{"test":"datum.c > datum.o","value":"#ff0000"},{"test":"datum.c < datum.o","value":"#0000ff"}],"value":"#000000"}}},
{"data":{"name":"candles"},"transform":[{"filter":"datum.o == datum.c"}],
 "mark":{"type":"tick","orient":"horizontal","size":3,"thickness":1,"color":"#000000"},
 "encoding":{"x":{"field":"i","type":"quantitative","scale":{"domain":[-0.125,459.625],"nice":false,"zero":false},"axis":null},
  "y":{"field":"o","type":"quantitative","scale":{"domain":[1.07608,1.1033],"nice":false,"zero":false},"axis":null}}},
{"data":{"name":"trend"},"mark":{"type":"line","color":"#000000","strokeWidth":2},
 "encoding":{"x":{"field":"i","type":"quantitative","scale":{"domain":[-0.125,459.625],"nice":false,"zero":false},"axis":null},
  "y":{"field":"p","type":"quantitative","scale":{"domain":[1.07608,1.1033],"nice":false,"zero":false},"axis":null}}},
{"data":{"name":"levels"},"transform":[{"filter":"datum.kind != 'bid'"}],
 "mark":{"type":"rule","strokeWidth":2},
 "encoding":{"y":{"field":"level","type":"quantitative","scale":{"domain":[1.07608,1.1033],"nice":false,"zero":false},"axis":null},
  "color":{"field":"kind","type":"nominal","scale":{"domain":["resistance","pivot","support","bid"],"range":["#ff0000","#008000","#0000ff","#000000"]},"legend":null}}},
{"data":{"name":"levels"},
 "mark":{"type":"bar","size":10,"orient":"horizontal"},
 "encoding":{"x":{"datum":460,"type":"quantitative","scale":{"domain":[-0.125,459.625],"nice":false,"zero":false},"axis":null},
  "x2":{"datum":472},
  "y":{"field":"level","type":"quantitative","scale":{"domain":[1.07608,1.1033],"nice":false,"zero":false},"axis":null},
  "color":{"field":"kind","type":"nominal","scale":{"domain":["resistance","pivot","support","bid"],"range":["#ff0000","#008000","#0000ff","#000000"]},"legend":null}}},
{"data":{"name":"levels"},
 "mark":{"type":"text","color":"#ffffff","font":"Liberation Sans","fontSize":9.5,"align":"center","baseline":"middle"},
 "encoding":{"x":{"datum":465,"type":"quantitative","scale":{"domain":[-0.125,459.625],"nice":false,"zero":false},"axis":null},
  "y":{"field":"level","type":"quantitative","scale":{"domain":[1.07608,1.1033],"nice":false,"zero":false},"axis":null},
  "text":{"field":"level","type":"quantitative","format":".5f"}}},
{"data":{"name":"path"},"mark":{"type":"line","color":"#000000","strokeWidth":3,"strokeJoin":"round"},
 "encoding":{"x":{"field":"i","type":"quantitative","scale":{"domain":[-0.125,459.625],"nice":false,"zero":false},"axis":null},
  "y":{"field":"p","type":"quantitative","scale":{"domain":[1.07608,1.1033],"nice":false,"zero":false},"axis":null},
  "order":{"field":"n"}}},
{"data":{"name":"pathEnd"},"mark":{"type":"line","color":"#000000","strokeWidth":1.6},
 "encoding":{"x":{"field":"i","type":"quantitative","scale":{"domain":[-0.125,459.625],"nice":false,"zero":false},"axis":null},
  "y":{"field":"p","type":"quantitative","scale":{"domain":[1.07608,1.1033],"nice":false,"zero":false},"axis":null},
  "order":{"field":"n"}}},
{"data":{"name":"heads"},"transform":[{"filter":"datum.head == 'A'"}],
 "mark":{"type":"point","shape":"M0,0L0.9,2.6L-0.9,2.6Z","size":64,"filled":true,"color":"#000000","opacity":1,"angle":16.5},
 "encoding":{"x":{"field":"i","type":"quantitative","scale":{"domain":[-0.125,459.625],"nice":false,"zero":false},"axis":null},
  "y":{"field":"p","type":"quantitative","scale":{"domain":[1.07608,1.1033],"nice":false,"zero":false},"axis":null}}},
{"data":{"name":"heads"},"transform":[{"filter":"datum.head == 'B'"}],
 "mark":{"type":"point","shape":"M0,0L0.9,2.6L-0.9,2.6Z","size":64,"filled":true,"color":"#000000","opacity":1,"angle":168.5},
 "encoding":{"x":{"field":"i","type":"quantitative","scale":{"domain":[-0.125,459.625],"nice":false,"zero":false},"axis":null},
  "y":{"field":"p","type":"quantitative","scale":{"domain":[1.07608,1.1033],"nice":false,"zero":false},"axis":null}}},
{"data":{"name":"heads"},"transform":[{"filter":"datum.head == 'C'"}],
 "mark":{"type":"point","shape":"M0,0L0.9,2.6L-0.9,2.6Z","size":64,"filled":true,"color":"#000000","opacity":1,"angle":28.9},
 "encoding":{"x":{"field":"i","type":"quantitative","scale":{"domain":[-0.125,459.625],"nice":false,"zero":false},"axis":null},
  "y":{"field":"p","type":"quantitative","scale":{"domain":[1.07608,1.1033],"nice":false,"zero":false},"axis":null}}},
{"data":{"name":"heads"},"transform":[{"filter":"datum.head == 'D'"}],
 "mark":{"type":"point","shape":"M0,0L0.9,2.6L-0.9,2.6Z","size":64,"filled":true,"color":"#000000","opacity":1,"angle":167.9},
 "encoding":{"x":{"field":"i","type":"quantitative","scale":{"domain":[-0.125,459.625],"nice":false,"zero":false},"axis":null},
  "y":{"field":"p","type":"quantitative","scale":{"domain":[1.07608,1.1033],"nice":false,"zero":false},"axis":null}}},
{"data":{"name":"title"},
 "mark":{"type":"text","font":"Noto Sans CJK SC","fontSize":29,"color":"#000000","align":"left","baseline":"alphabetic"},
 "encoding":{"x":{"datum":24.1,"type":"quantitative","scale":{"domain":[-0.125,459.625],"nice":false,"zero":false},"axis":null},
  "y":{"datum":1.10099,"type":"quantitative","scale":{"domain":[1.07608,1.1033],"nice":false,"zero":false},"axis":null},
  "text":{"field":"t"}}}
]
}
